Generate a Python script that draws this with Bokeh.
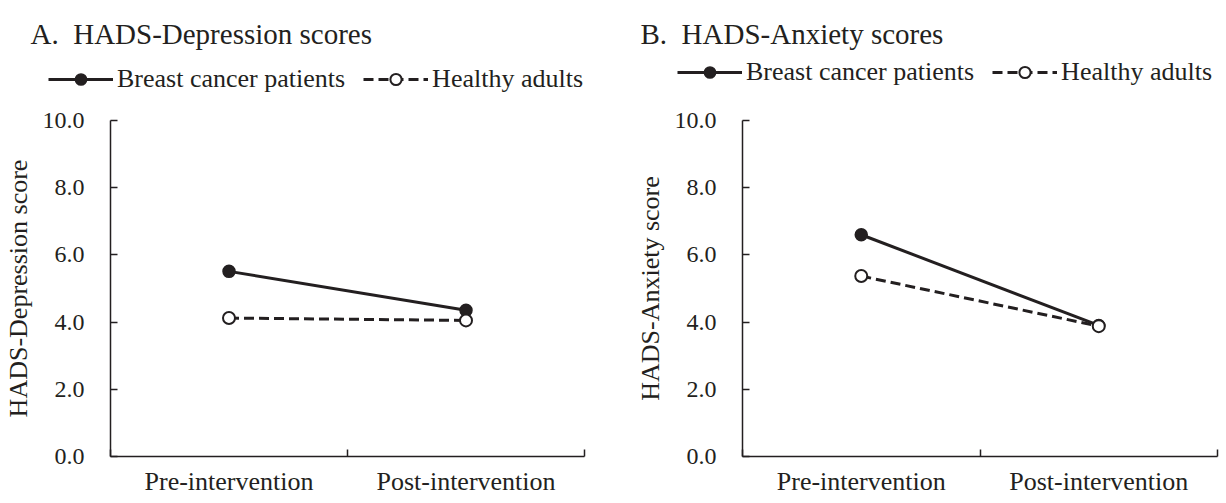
from bokeh.plotting import figure
from bokeh.models import Range1d, FixedTicker, PrintfTickFormatter, Legend, LegendItem, Label
from bokeh.layouts import row, column
from bokeh.embed import file_html
from bokeh.resources import INLINE

# ---- data ----
timepoints = ["Pre-intervention", "Post-intervention"]
series_names = ["Breast cancer patients", "Healthy adults"]
depression_cancer = [5.51, 4.35]
depression_healthy = [4.12, 4.05]
anxiety_cancer = [6.60, 3.90]
anxiety_healthy = [5.37, 3.88]
y_ticks = [0, 2, 4, 6, 8, 10]

FONT = "Liberation Serif"
INK = "#231f20"
HEADER_H = 100

CANCER_LINE = dict(line_color=INK, line_width=3)
CANCER_MARK = dict(size=12, fill_color=INK, line_color=INK, line_width=1.5)
HEALTHY_LINE = dict(line_color=INK, line_width=3, line_dash="10 5")
HEALTHY_MARK = dict(size=12, fill_color="white", line_color=INK, line_width=2)


def positions():
    return [i + 0.5 for i in range(len(timepoints))]


def make_header(title, width, cancer, healthy, title_x, legend_x, legend_y):
    h = figure(width=width, height=HEADER_H, output_backend="svg", toolbar_location=None,
               x_range=Range1d(0, width), y_range=Range1d(0, HEADER_H),
               x_axis_type=None, y_axis_type=None,
               min_border_left=0, min_border_right=0, min_border_top=0, min_border_bottom=0)
    h.outline_line_color = None
    h.grid.visible = False
    h.add_layout(Label(x=title_x, y=HEADER_H - 33, x_units="screen", y_units="screen",
                       text=title, text_font=FONT, text_font_size="29px",
                       text_color=INK, text_baseline="alphabetic", text_align="left"))
    # hidden copies of the series: they only serve as legend keys
    xs = positions()
    l1 = h.line(xs, cancer, visible=False, **CANCER_LINE)
    s1 = h.scatter(xs, cancer, visible=False, **CANCER_MARK)
    l2 = h.line(xs, healthy, visible=False, **HEALTHY_LINE)
    s2 = h.scatter(xs, healthy, visible=False, **HEALTHY_MARK)
    legend = Legend(items=[LegendItem(label=series_names[0], renderers=[l1, s1]),
                           LegendItem(label=series_names[1], renderers=[l2, s2])],
                    orientation="horizontal", location=(legend_x, legend_y),
                    padding=0, margin=0, spacing=18, glyph_width=65, glyph_height=28,
                    label_standoff=4, label_height=28,
                    label_text_font=FONT, label_text_font_size="26px",
                    label_text_color=INK, border_line_alpha=0,
                    background_fill_alpha=0, inactive_fill_alpha=0)
    h.add_layout(legend, "center")
    return h


def make_panel(ylabel, cancer, healthy, width, border_left, border_right):
    xs = positions()
    p = figure(width=width, height=503 - HEADER_H, output_backend="svg", toolbar_location=None,
               x_range=Range1d(0, len(timepoints)), y_range=Range1d(0, 10),
               min_border_left=border_left, min_border_right=border_right,
               min_border_top=120 - HEADER_H, min_border_bottom=47)
    p.outline_line_color = None
    p.xgrid.grid_line_color = None
    p.ygrid.grid_line_color = None

    ya = p.yaxis[0]
    ya.ticker = FixedTicker(ticks=y_ticks, minor_ticks=[])
    ya.formatter = PrintfTickFormatter(format="%.1f")
    ya.axis_label = ylabel
    ya.axis_label_text_font = FONT
    ya.axis_label_text_font_size = "26px"
    ya.axis_label_text_font_style = "normal"
    ya.axis_label_text_color = INK
    ya.axis_label_standoff = 7
    ya.major_label_text_font = FONT
    ya.major_label_text_font_size = "24px"
    ya.major_label_text_color = INK
    ya.major_label_standoff = 26
    ya.major_tick_in = 7
    ya.major_tick_out = 0
    ya.major_tick_line_color = INK
    ya.major_tick_line_width = 1.5
    ya.axis_line_color = INK
    ya.axis_line_width = 1.5

    xa = p.xaxis[0]
    xa.ticker = FixedTicker(ticks=xs, minor_ticks=list(range(len(timepoints) + 1)))
    xa.major_label_overrides = {x: t for x, t in zip(xs, timepoints)}
    xa.major_label_text_font = FONT
    xa.major_label_text_font_size = "26px"
    xa.major_label_text_color = INK
    xa.major_label_standoff = 10
    xa.major_tick_in = 0
    xa.major_tick_out = 0
    xa.minor_tick_in = 7
    xa.minor_tick_out = 0
    xa.minor_tick_line_color = INK
    xa.minor_tick_line_width = 1.5
    xa.axis_line_color = INK
    xa.axis_line_width = 1.5

    p.line(xs, cancer, **CANCER_LINE)
    p.scatter(xs, cancer, **CANCER_MARK)
    p.line(xs, healthy, **HEALTHY_LINE)
    p.scatter(xs, healthy, **HEALTHY_MARK)
    return p


h1 = make_header("A.\u00a0\u00a0HADS-Depression scores", 620, depression_cancer, depression_healthy,
                 title_x=30, legend_x=48, legend_y=6)
h2 = make_header("B.\u00a0\u00a0HADS-Anxiety scores", 606, anxiety_cancer, anxiety_healthy,
                 title_x=20, legend_x=57, legend_y=13)
p1 = make_panel("HADS-Depression score", depression_cancer, depression_healthy,
                width=620, border_left=108, border_right=36)
p2 = make_panel("HADS-Anxiety score", anxiety_cancer, anxiety_healthy,
                width=606, border_left=122, border_right=9)

layout = column(row(h1, h2), row(p1, p2))
open("out.html", "w").write(file_html(layout, INLINE))
